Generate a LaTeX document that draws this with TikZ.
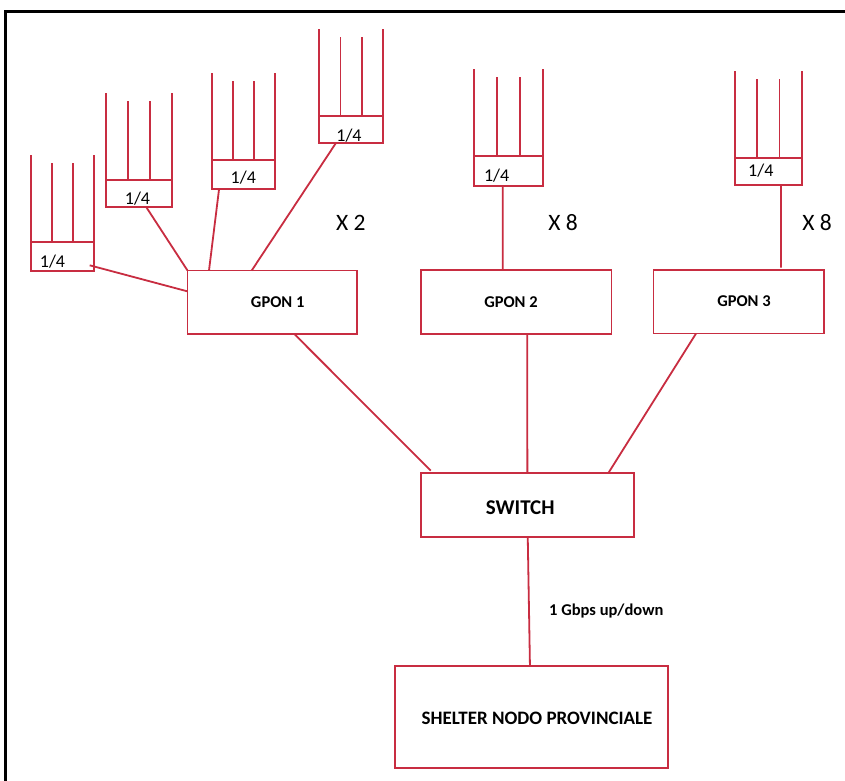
\documentclass[tikz,border=0pt]{standalone}
\usepackage{fontspec}
\setmainfont{Carlito}
\usetikzlibrary{calc}
\definecolor{wire}{RGB}{200,45,65}
\tikzset{
  wireline/.style={draw=wire, line width=1.8pt},
  splitbox/.style={draw=wire, line width=1.8pt, inner sep=0pt, outer sep=0pt, fill=white},
  bigbox/.style={draw=wire, line width=1.8pt, inner sep=0pt, outer sep=0pt},
  quarter/.style={anchor=base, inner sep=0pt, font=\fontsize{18}{20}\selectfont},
  times/.style={anchor=base, inner sep=0pt, font=\fontsize{23.5}{26}\selectfont},
  gponlbl/.style={anchor=base, inner sep=0pt, font=\bfseries\fontsize{16.5}{18}\selectfont},
}
\begin{document}
\begin{tikzpicture}[x=1pt, y=-1pt]
\path[use as bounding box, clip] (0,0) rectangle (845,780);
\fill[white] (0,0) rectangle (845,780);
\draw[black, line width=3pt] (5.3,11) rectangle (900,820);

% splitters
\node[splitbox, minimum width=63pt, minimum height=28.7pt] (sA) at (62.2,256.3) {};
\node[splitbox, minimum width=66pt, minimum height=27pt] (sB) at (138.7,193.2) {};
\node[splitbox, minimum width=62.7pt, minimum height=28.7pt] (sC) at (243.7,174.7) {};
\node[splitbox, minimum width=64.3pt, minimum height=27.6pt] (sD) at (351.2,129.5) {};
\node[splitbox, minimum width=68.4pt, minimum height=29.4pt] (sE) at (508.5,171) {};
\node[splitbox, minimum width=66.7pt, minimum height=27.3pt] (sF) at (768.3,171.3) {};

\foreach \s in {sA,sB,sC,sD,sE,sF}{
  \draw[wireline] (\s.north west) -- ++(0,-87);
  \draw[wireline] (\s.north east) -- ++(0,-87);
  \draw[wireline] ($(\s.north west)!1/3!(\s.north east)$) -- ++(0,-79);
  \draw[wireline] ($(\s.north west)!2/3!(\s.north east)$) -- ++(0,-79);
}

\node[quarter] (qA) at (52.5,267.7) {1/4};
\node[quarter] (qB) at (137.5,204) {1/4};
\node[quarter] (qC) at (243.3,183.3) {1/4};
\node[quarter] (qD) at (349,141) {1/4};
\node[quarter] (qE) at (496.7,181.7) {1/4};
\node[quarter] (qF) at (760.8,176.7) {1/4};

% GPON boxes
\node[bigbox, minimum width=169.8pt, minimum height=63.2pt] (g1) at (272.4,302.1) {};
\node[bigbox, minimum width=190.8pt, minimum height=64pt] (g2) at (516.1,302) {};
\node[bigbox, minimum width=170.2pt, minimum height=63.5pt] (g3) at (738.6,301.8) {};
\node[gponlbl] (t1) at (277.7,307.7) {GPON 1};
\node[gponlbl] (t2) at (511,307.7) {GPON 2};
\node[gponlbl] (t3) at (744,306.7) {GPON 3};

% multipliers
\node[times] (x2) at (350.8,230) {X 2};
\node[times] (x8a) at (563,230) {X 8};
\node[times] (x8b) at (817,230) {X 8};

% switch and shelter
\node[bigbox, minimum width=212.7pt, minimum height=64pt] (sw) at (527.7,505.3) {};
\node[anchor=base, inner sep=0pt, font=\bfseries\fontsize{21}{23}\selectfont] (swt) at (520.2,514.3) {SWITCH};
\node[bigbox, minimum width=272.7pt, minimum height=101.7pt] (sh) at (531.3,716.8) {};
\node[anchor=base, inner sep=0pt, font=\bfseries\fontsize{19}{21}\selectfont] (sht) at (537,724) {SHELTER NODO PROVINCIALE};
\node[anchor=base, inner sep=0pt, font=\bfseries\fontsize{16.5}{18}\selectfont] (bw) at (606.3,615.7) {1 Gbps up/down};

% connectors splitters -> GPON
\draw[wireline] ($(sA.east)+(-4,9)$) -- ($(g1.north west)!0.33!(g1.south west)$);
\draw[wireline] ($(sB.south west)+(40.3,0)$) -- (g1.north west);
\draw[wireline] ($(sC.south west)+(6.7,0)$) -- ($(g1.north west)+(21.5,0)$);
\draw[wireline] ($(sD.south west)+(16.7,0)$) -- ($(g1.north west)+(64.2,0)$);
\draw[wireline] ($(sE.south west)+(28.4,0)$) -- ($(g2.north west)+(82,0)$);
\draw[wireline] ($(sF.south west)+(46,0)$) -- ($(g3.north west)+(127.5,-2.5)$);

% GPON -> switch
\draw[wireline] ($(g1.south west)+(106.5,0)$) -- ($(sw.north west)+(9.4,-2.6)$);
\draw[wireline] ($(g2.south west)+(106.6,0)$) -- ($(sw.north west)+(106,0)$);
\draw[wireline] ($(g3.south west)+(42.5,0)$) -- ($(sw.north west)+(187.2,-0.6)$);

% switch -> shelter
\draw[wireline] ($(sw.south west)+(106.4,0)$) -- ($(sh.north west)+(135,0)$);
\end{tikzpicture}
\end{document}
